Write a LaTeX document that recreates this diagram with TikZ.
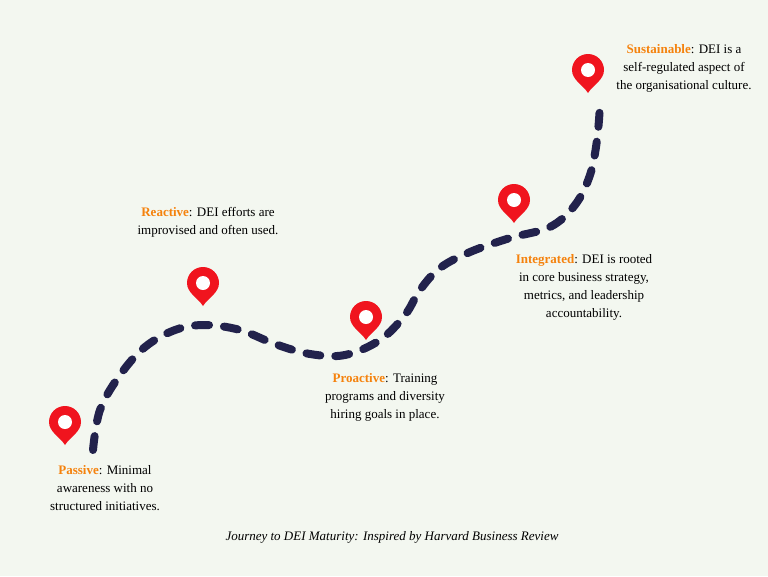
\documentclass[tikz,border=0pt]{standalone}
\usepackage{fontspec}
\setmainfont{Liberation Serif}
\definecolor{bg}{HTML}{F3F7F0}
\definecolor{road}{HTML}{22224C}
\definecolor{pinred}{HTML}{F0141E}
\definecolor{lab}{HTML}{F5820D}
\begin{document}
\begin{tikzpicture}[x=1pt,y=-1pt,
  txt/.style={align=center,font=\fontsize{13}{18}\selectfont,text=black},
  pin/.pic={\fill[pinred] (0,0) .. controls (-5,-8) and (-16,-13) .. (-16,-23) arc[start angle=180,end angle=360,radius=16] .. controls (16,-13) and (5,-8) .. (0,0) -- cycle;
            \fill[white] (0,-23) circle[radius=7];}]
\fill[bg] (0,0) rectangle (768,576);
\useasboundingbox (0,0) rectangle (768,576);
\draw[road,line width=8pt,line cap=round,dash pattern=on 14pt off 15pt]
 plot[smooth,tension=0.6] coordinates {(93,450) (100,410) (120,375) (145,347) (175,330) (205,325) (240,330) (275,344) (310,354) (345,355) (380,340) (405,315) (420,290) (440,268) (470,252) (510,238) (550,227) (575,205) (590,175) (597,140) (600,105)};
\pic at (65,445) {pin};
\pic at (203,306) {pin};
\pic at (366,340) {pin};
\pic at (514,223) {pin};
\pic at (588,93) {pin};
\node[txt] (passive) at (105,488) {{\color{lab}\bfseries Passive}: Minimal\\awareness with no\\structured initiatives.};
\node[txt] (reactive) at (208,222) {{\color{lab}\bfseries Reactive}: DEI efforts are\\improvised and often used.};
\node[txt] (proactive) at (385,397) {{\color{lab}\bfseries Proactive}: Training\\programs and diversity\\hiring goals in place.};
\node[txt] (integrated) at (584,287) {{\color{lab}\bfseries Integrated}: DEI is rooted\\in core business strategy,\\metrics, and leadership\\accountability.};
\node[txt] (sustainable) at (684,68) {{\color{lab}\bfseries Sustainable}: DEI is a\\self-regulated aspect of\\the organisational culture.};
\node[txt,font=\fontsize{13}{15}\selectfont\itshape] (cap) at (392,537) {Journey to DEI Maturity: Inspired by Harvard Business Review};
\end{tikzpicture}
\end{document}
